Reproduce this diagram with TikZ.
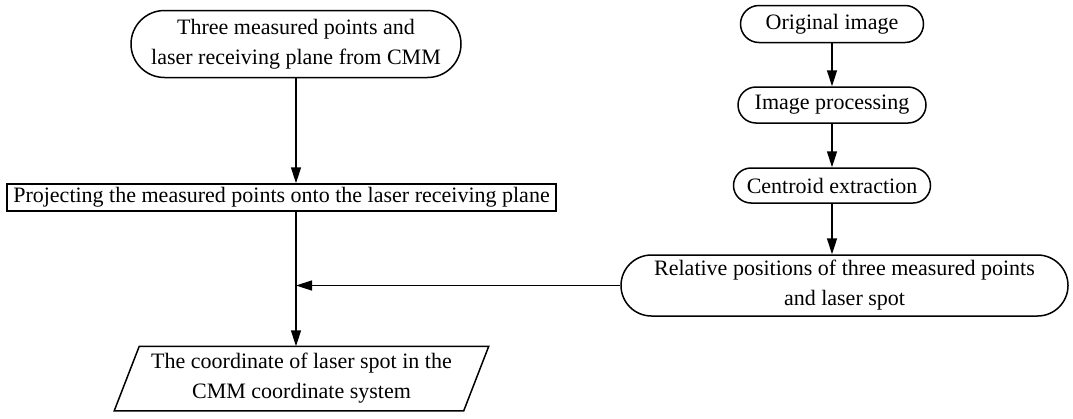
\documentclass[tikz,border=0pt]{standalone}
\usepackage{fontspec}
\setmainfont{Liberation Serif}
\usetikzlibrary{shapes.misc,arrows.meta}

\begin{document}
\begin{tikzpicture}[x=1pt,y=-1pt,
  line width=1.5pt,
  every node/.style={font=\fontsize{22}{30}\selectfont, align=center, inner sep=0pt},
  term/.style 2 args={draw, rounded rectangle, minimum width=#1, minimum height=#2},
  procbox/.style 2 args={draw, rectangle, minimum width=#1, minimum height=#2},
  flow/.style={-{Triangle[length=16pt,width=10pt]}}]

\useasboundingbox (0,0) rectangle (1073,418);

% left column
\node[term={330}{67}] (src) at (296,44)
  {Three measured points and\\laser receiving plane from CMM};
\node[procbox={549}{27}] (proj) at (281.5,197.5)
  {Projecting the measured points onto the laser receiving plane};
\node[minimum width=348, minimum height=63] (out) at (301.5,378.5)
  {The coordinate of laser spot in the\\CMM coordinate system};
\draw ([xshift=12.5pt]out.north west) -- ([xshift=12.5pt]out.north east)
  -- ([xshift=-12.5pt]out.south east) -- ([xshift=-12.5pt]out.south west) -- cycle;

% right column
\node[term={183}{37}] (orig) at (832,24) {Original image};
\node[term={188}{36}] (proc) at (832,105) {Image processing};
\node[term={197}{35}] (cent) at (832,185.5) {Centroid extraction};
\node[term={447}{61}] (rel) at (844.5,285.5)
  {Relative positions of three measured points\\and laser spot};

% connectors
\coordinate (j) at (src.south |- rel.west);
\draw[flow] (src.south) -- (src.south |- proj.north);
\draw[flow] (j |- proj.south) -- (j |- out.north);
\draw[flow] (rel.west) -- (j);
\draw[flow] (orig.south) -- (proc.north);
\draw[flow] (proc.south) -- (cent.north);
\draw[flow] (cent.south) -- (cent.south |- rel.north);
\end{tikzpicture}
\end{document}
